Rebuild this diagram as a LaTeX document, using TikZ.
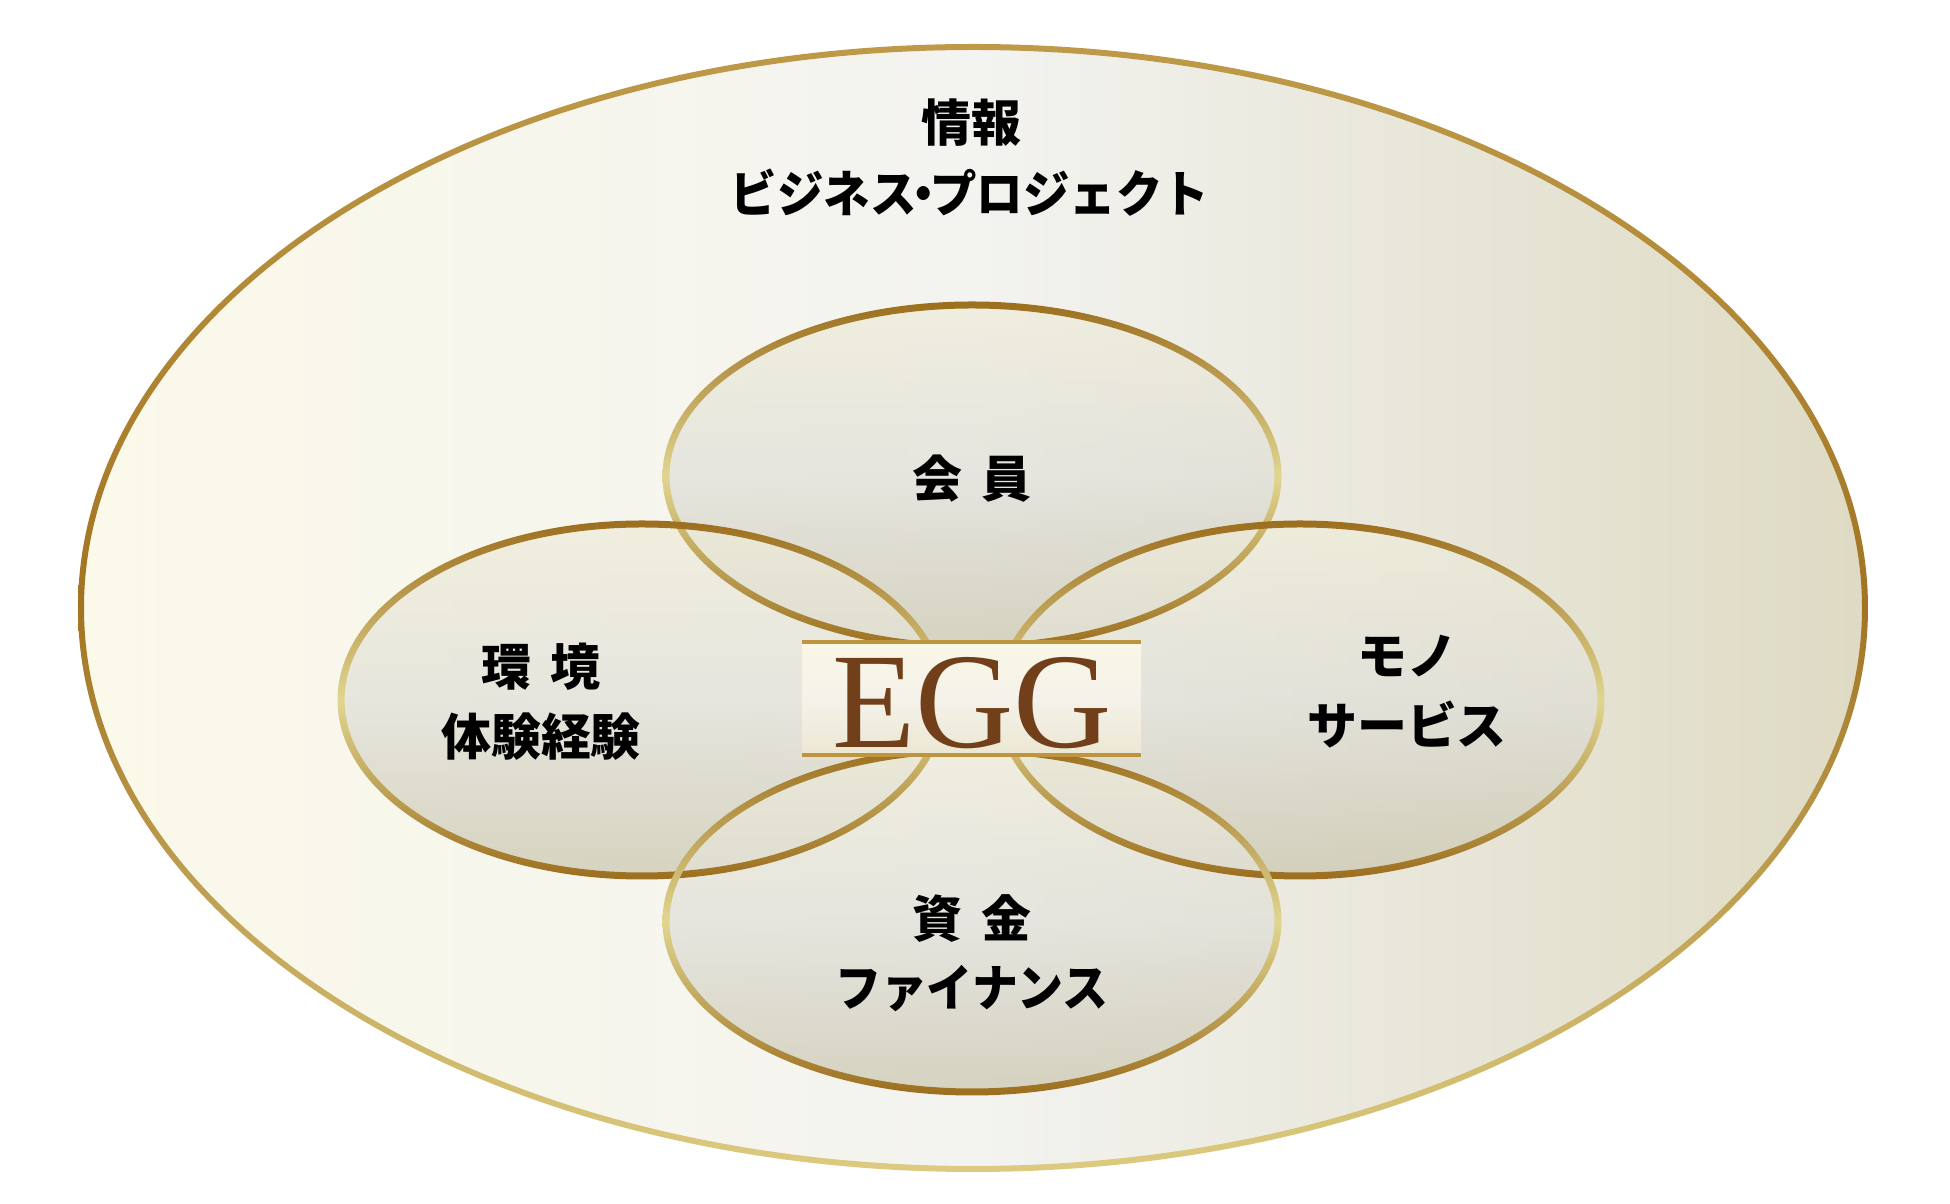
\documentclass[tikz,border=0pt]{standalone}
\usepackage{fontspec}
\setmainfont{Liberation Serif}
\newfontfamily\jpfont{Noto Sans CJK JP}
\definecolor{olA}{HTML}{FBF9E9}
\definecolor{olB}{HTML}{F3F3F0}
\definecolor{olC}{HTML}{DEDAC3}
\definecolor{goldD}{HTML}{9C6E1E}
\definecolor{goldM}{HTML}{BE9A48}
\definecolor{goldL}{HTML}{E0D690}
\definecolor{goldB}{HTML}{DCCB80}
\definecolor{goldO}{HTML}{A27422}
\definecolor{sfT}{HTML}{EFECD8}
\definecolor{sfM}{HTML}{E0DFD8}
\definecolor{sfB}{HTML}{C9C5AD}
\definecolor{boxT}{HTML}{FAF7E6}
\definecolor{boxM}{HTML}{F4F2EA}
\definecolor{boxB}{HTML}{ECE7D3}
\definecolor{boxline}{HTML}{BF943E}
\definecolor{eggbrown}{HTML}{71401A}
\pgfdeclarehorizontalshading{outerfill}{100bp}{color(0bp)=(olA); color(25bp)=(olA); color(50bp)=(olB); color(75bp)=(olC); color(100bp)=(olC)}
\tikzset{
  lbl/.style={font=\jpfont\bfseries\fontsize{14.2pt}{19.9pt}\selectfont, align=center, inner sep=0pt, text=black},
  egg/.style={font=\fontsize{38.7pt}{40pt}\selectfont, inner sep=0pt, text=eggbrown},
  petalfill/.style={top color=sfT, bottom color=sfB, middle color=sfM, fill opacity=0.7},
  petalring/.style={even odd rule, top color=goldD, bottom color=goldD, middle color=goldL},
  outerring/.style={even odd rule, top color=goldM, bottom color=goldB, middle color=goldO}
}
\begin{document}
\begin{tikzpicture}[x=0.01cm, y=-0.01cm]
\useasboundingbox[fill=white] (0,0) rectangle (1950,1204);
% outer ellipse
\shade[shading=outerfill] (973,608) ellipse [x radius=892, y radius=561];
\shade[outerring] (973,608) ellipse [x radius=895, y radius=564] (973,608) ellipse [x radius=889, y radius=558];
% petals: fills
\shade[petalfill] (972,476) ellipse [x radius=306, y radius=171];
\shade[petalfill] (642,700) ellipse [x radius=301, y radius=176];
\shade[petalfill] (1300,700) ellipse [x radius=301, y radius=176];
\shade[petalfill] (972,921) ellipse [x radius=306, y radius=171];
% petals: rings
\shade[petalring] (972,476) ellipse [x radius=309.5, y radius=174.5] (972,476) ellipse [x radius=302.5, y radius=167.5];
\shade[petalring] (642,700) ellipse [x radius=304.5, y radius=179.5] (642,700) ellipse [x radius=297.5, y radius=172.5];
\shade[petalring] (1300,700) ellipse [x radius=304.5, y radius=179.5] (1300,700) ellipse [x radius=297.5, y radius=172.5];
\shade[petalring] (972,921) ellipse [x radius=309.5, y radius=174.5] (972,921) ellipse [x radius=302.5, y radius=167.5];
% EGG plate
\shade[top color=boxT, bottom color=boxB, middle color=boxM] (802,641) rectangle (1141,756);
\draw[boxline, line width=1.2pt] (802,642) -- (1141,642);
\draw[boxline, line width=1.2pt] (802,755) -- (1141,755);
% labels
\node[egg] (egg) at (972,703) {EGG};
\node[lbl] (info) at (971,123) {情報};
\node[lbl, xscale=0.93] (infosub) at (970,193) {ビジネス\hspace{-0.35em}・\hspace{-0.35em}プロジェクト};
\node[lbl] (member) at (972,479) {会\hspace{0.4em}員};
\node[lbl] (env) at (541,702) {環\hspace{0.4em}境\\体験経験};
\node[lbl] (goods) at (1407,692) {モノ\\サービス};
\node[lbl] (fund) at (972,919) {資\hspace{0.4em}金};
\node[lbl, xscale=0.92] (fundsub) at (972,989) {ファイナンス};
\end{tikzpicture}
\end{document}
